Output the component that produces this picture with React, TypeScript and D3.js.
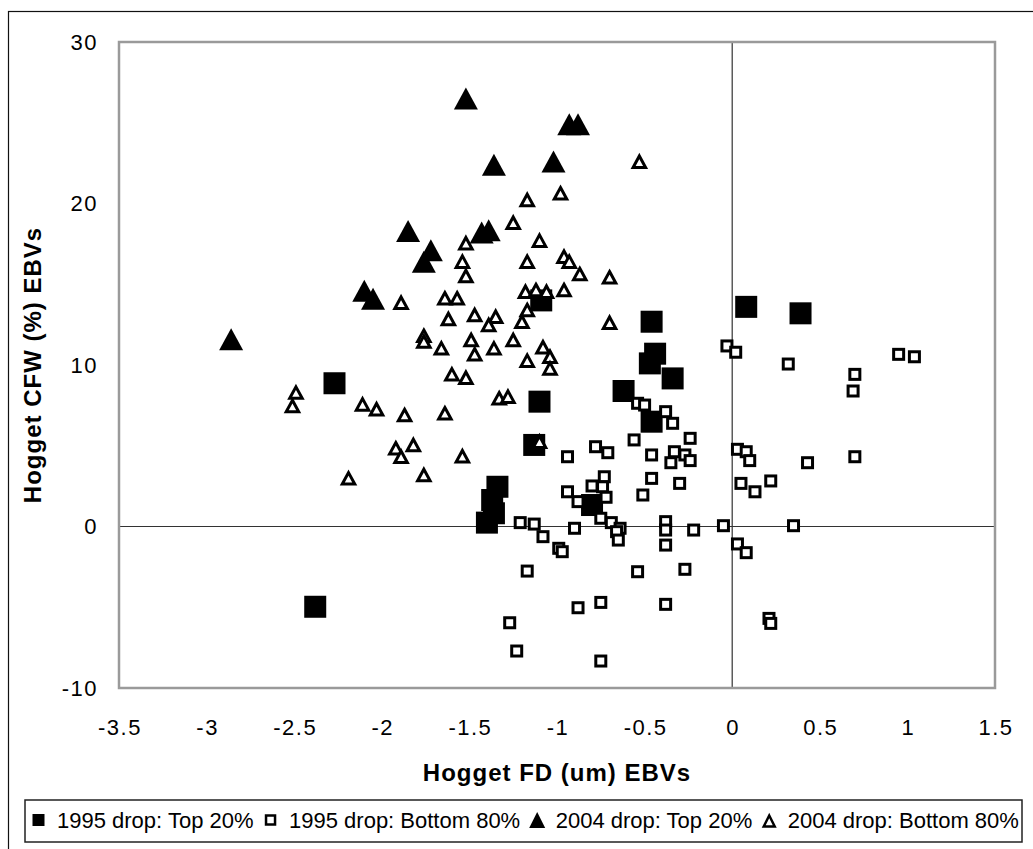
import React, { useEffect, useRef } from 'react'
import * as d3 from 'd3'

type Pt = [number, number]

// 1995 drop: Top 20% (filled squares)
const top1995: Pt[] = [
  [-2.38, -4.97], [-2.27, 8.87], [-1.1, 7.73], [-1.13, 5.05], [-1.34, 2.46],
  [-1.37, 1.64], [-1.36, 0.82], [-1.4, 0.24], [-1.09, 14.0], [-0.46, 12.68],
  [-0.44, 10.7], [-0.47, 10.1], [-0.34, 9.17], [-0.62, 8.39], [-0.46, 6.49],
  [-0.8, 1.33], [0.08, 13.6], [0.39, 13.2],
]

// 1995 drop: Bottom 80% (open squares)
const bottom1995: Pt[] = [
  [-0.03, 11.18], [0.02, 10.79], [0.32, 10.06], [0.95, 10.66], [1.04, 10.51],
  [0.7, 9.42], [0.69, 8.39], [-0.54, 7.63], [-0.5, 7.52], [-0.38, 7.11],
  [-0.34, 6.39], [-0.24, 5.46], [-0.56, 5.36], [-0.78, 4.94], [-0.71, 4.57],
  [-0.94, 4.32], [-0.46, 4.43], [-0.33, 4.63], [-0.27, 4.43], [-0.24, 4.08],
  [-0.35, 3.95], [0.03, 4.78], [0.08, 4.63], [0.1, 4.08], [0.43, 3.95],
  [0.7, 4.32], [-0.73, 3.08], [-0.8, 2.51], [-0.94, 2.15], [-0.74, 2.46],
  [-0.72, 1.81], [-0.88, 1.54], [-0.46, 2.98], [-0.51, 1.95], [-0.3, 2.67],
  [0.05, 2.67], [0.13, 2.15], [0.22, 2.82], [-0.75, 0.51], [-0.69, 0.24],
  [-0.64, -0.11], [-0.66, -0.32], [-0.65, -0.84], [-0.9, -0.11], [-0.38, 0.3],
  [-0.38, -0.22], [-0.22, -0.22], [-0.05, 0.05], [0.35, 0.05], [-1.08, -0.63],
  [-0.99, -1.35], [-0.97, -1.56], [-0.38, -1.15], [0.03, -1.08], [0.08, -1.62],
  [-0.54, -2.8], [-0.27, -2.65], [-0.88, -5.03], [-0.75, -4.7], [-0.38, -4.82],
  [0.21, -5.69], [0.22, -6.0], [-0.75, -8.33], [-1.21, 0.24], [-1.13, 0.15],
  [-1.17, -2.76], [-1.27, -5.96], [-1.23, -7.71],
]

// 2004 drop: Top 20% (filled triangles)
const top2004: Pt[] = [
  [-2.86, 11.6], [-2.1, 14.6], [-2.05, 14.1], [-1.85, 18.3], [-1.72, 17.1],
  [-1.76, 16.4], [-1.52, 26.5], [-1.43, 18.2], [-1.39, 18.35], [-1.36, 22.4],
  [-1.02, 22.6], [-0.93, 24.9], [-0.88, 24.9],
]

// 2004 drop: Bottom 80% (open triangles)
const bottom2004: Pt[] = [
  [-0.53, 22.59], [-0.98, 20.63], [-1.17, 20.22], [-1.25, 18.81], [-1.52, 17.54],
  [-1.1, 17.7], [-1.54, 16.4], [-1.52, 15.51], [-1.17, 16.4], [-0.96, 16.71],
  [-0.93, 16.4], [-0.87, 15.63], [-0.7, 15.43], [-1.89, 13.86], [-1.64, 14.13],
  [-1.57, 14.13], [-1.18, 14.54], [-1.12, 14.64], [-1.06, 14.54], [-0.96, 14.64],
  [-1.17, 13.4], [-1.2, 12.68], [-1.62, 12.85], [-1.47, 13.1], [-1.35, 12.99],
  [-1.39, 12.48], [-0.7, 12.62], [-1.76, 11.81], [-1.76, 11.45], [-1.66, 11.03],
  [-1.49, 11.55], [-1.47, 10.66], [-1.36, 11.03], [-1.25, 11.55], [-1.08, 11.1],
  [-1.04, 10.51], [-1.04, 9.79], [-1.17, 10.27], [-1.6, 9.42], [-1.52, 9.21],
  [-1.33, 7.94], [-1.28, 8.04], [-1.87, 6.9], [-1.64, 7.01], [-1.92, 4.84],
  [-1.82, 5.05], [-1.1, 5.25], [-1.54, 4.35], [-1.89, 4.32], [-2.49, 8.29],
  [-2.51, 7.46], [-2.11, 7.56], [-2.03, 7.26], [-2.19, 2.98], [-1.76, 3.19],
]

const xTicks = [-3.5, -3, -2.5, -2, -1.5, -1, -0.5, 0, 0.5, 1, 1.5]
const yTicks = [-10, 0, 10, 20, 30]
const legendLabels = [
  '1995 drop: Top 20%',
  '1995 drop: Bottom 80%',
  '2004 drop: Top 20%',
  '2004 drop: Bottom 80%',
]

const W = 1033
const H = 849
const FONT = "'Liberation Sans', Arial, Helvetica, sans-serif"

const triPath = (w: number, h: number) =>
  `M0,${-h / 2}L${w / 2},${h / 2}L${-w / 2},${h / 2}Z`

export default function App() {
  const svgRef = useRef<SVGSVGElement>(null)

  useEffect(() => {
    if (!svgRef.current) return
    const svg = d3.select(svgRef.current)
    svg.selectAll('*').remove()

    const plot = { left: 119, top: 42, right: 995, bottom: 688 }
    const x = d3.scaleLinear().domain([-3.5, 1.5]).range([plot.left, plot.right])
    const y = d3.scaleLinear().domain([-10, 30]).range([plot.bottom, plot.top])

    svg.append('rect').attr('width', W).attr('height', H).attr('fill', '#fff')

    // outer chart border (runs off the picture on right/bottom)
    svg
      .append('rect')
      .attr('x', 8.5)
      .attr('y', 11.5)
      .attr('width', 1100)
      .attr('height', 1000)
      .attr('fill', 'none')
      .attr('stroke', '#111')
      .attr('stroke-width', 1.2)

    // zero lines
    svg
      .append('line')
      .attr('x1', x(0))
      .attr('x2', x(0))
      .attr('y1', plot.top)
      .attr('y2', plot.bottom)
      .attr('stroke', '#333')
      .attr('stroke-width', 1.2)
    svg
      .append('line')
      .attr('x1', plot.left)
      .attr('x2', plot.right)
      .attr('y1', y(0))
      .attr('y2', y(0))
      .attr('stroke', '#333')
      .attr('stroke-width', 1.2)

    const g = svg.append('g')

    // 1995 top: filled squares
    const fs = 22
    g.selectAll('rect.t95')
      .data(top1995)
      .enter()
      .append('rect')
      .attr('class', 't95')
      .attr('x', (d) => x(d[0]) - fs / 2)
      .attr('y', (d) => y(d[1]) - fs / 2)
      .attr('width', fs)
      .attr('height', fs)
      .attr('fill', '#000')

    // 1995 bottom: open squares
    const os = 10
    g.selectAll('rect.b95')
      .data(bottom1995)
      .enter()
      .append('rect')
      .attr('class', 'b95')
      .attr('x', (d) => x(d[0]) - os / 2)
      .attr('y', (d) => y(d[1]) - os / 2)
      .attr('width', os)
      .attr('height', os)
      .attr('fill', '#fff')
      .attr('stroke', '#000')
      .attr('stroke-width', 3)

    // 2004 top: filled triangles
    g.selectAll('path.t04')
      .data(top2004)
      .enter()
      .append('path')
      .attr('class', 't04')
      .attr('d', triPath(24, 22))
      .attr('transform', (d) => `translate(${x(d[0])},${y(d[1])})`)
      .attr('fill', '#000')

    // 2004 bottom: open triangles
    g.selectAll('path.b04')
      .data(bottom2004)
      .enter()
      .append('path')
      .attr('class', 'b04')
      .attr('d', triPath(12.5, 11.5))
      .attr('transform', (d) => `translate(${x(d[0])},${y(d[1])})`)
      .attr('fill', '#fff')
      .attr('stroke', '#000')
      .attr('stroke-width', 3)
      .attr('stroke-linejoin', 'miter')

    // plot frame
    svg
      .append('rect')
      .attr('x', plot.left)
      .attr('y', plot.top)
      .attr('width', plot.right - plot.left)
      .attr('height', plot.bottom - plot.top)
      .attr('fill', 'none')
      .attr('stroke', '#9a9a9a')
      .attr('stroke-width', 2.5)

    // tick labels
    svg
      .append('g')
      .selectAll('text')
      .data(xTicks)
      .enter()
      .append('text')
      .attr('x', (d) => x(d) + 1)
      .attr('y', 727)
      .attr('dy', '0.35em')
      .attr('text-anchor', 'middle')
      .style('font-family', FONT)
      .style('font-size', '22px')
      .style('letter-spacing', '1.5px')
      .text((d) => String(d))

    svg
      .append('g')
      .selectAll('text')
      .data(yTicks)
      .enter()
      .append('text')
      .attr('x', 98)
      .attr('y', (d) => y(d))
      .attr('dy', '0.35em')
      .attr('text-anchor', 'end')
      .style('font-family', FONT)
      .style('font-size', '22px')
      .style('letter-spacing', '1.5px')
      .text((d) => String(d))

    // axis titles
    svg
      .append('text')
      .attr('x', (plot.left + plot.right) / 2)
      .attr('y', 773)
      .attr('dy', '0.35em')
      .attr('text-anchor', 'middle')
      .style('font-family', FONT)
      .style('font-weight', 'bold')
      .style('font-size', '24px')
      .style('letter-spacing', '1px')
      .text('Hogget FD (um) EBVs')

    svg
      .append('text')
      .attr('transform', `translate(33,${(plot.top + plot.bottom) / 2}) rotate(-90)`)
      .attr('dy', '0.35em')
      .attr('text-anchor', 'middle')
      .style('font-family', FONT)
      .style('font-weight', 'bold')
      .style('font-size', '24px')
      .style('letter-spacing', '1px')
      .text('Hogget CFW (%) EBVs')

    // legend
    svg
      .append('rect')
      .attr('x', 25)
      .attr('y', 800)
      .attr('width', 997)
      .attr('height', 42)
      .attr('fill', '#fff')
      .attr('stroke', '#222')
      .attr('stroke-width', 1.5)

    const legendY = 820
    let cx = 38.5
    legendLabels.forEach((label, i) => {
      const item = svg.append('g')
      if (i === 0) {
        item
          .append('rect')
          .attr('x', cx - 6)
          .attr('y', legendY - 6)
          .attr('width', 12)
          .attr('height', 12)
          .attr('fill', '#000')
      } else if (i === 1) {
        item
          .append('rect')
          .attr('x', cx - 4.5)
          .attr('y', legendY - 4.5)
          .attr('width', 9)
          .attr('height', 9)
          .attr('fill', '#fff')
          .attr('stroke', '#000')
          .attr('stroke-width', 2.5)
      } else if (i === 2) {
        item
          .append('path')
          .attr('d', triPath(16, 16))
          .attr('transform', `translate(${cx},${legendY})`)
          .attr('fill', '#000')
      } else {
        item
          .append('path')
          .attr('d', triPath(11, 11))
          .attr('transform', `translate(${cx},${legendY + 1})`)
          .attr('fill', '#fff')
          .attr('stroke', '#000')
          .attr('stroke-width', 2.5)
      }
      const t = item
        .append('text')
        .attr('x', cx + 18.5)
        .attr('y', legendY)
        .attr('dy', '0.35em')
        .style('font-family', FONT)
        .style('font-size', '22px')
        .text(label)
      const len = (t.node() as SVGTextElement).getComputedTextLength()
      cx = cx + 18.5 + len + 17
    })
  }, [])

  return (
    <svg
      ref={svgRef}
      width={W}
      height={H}
      style={{ position: 'absolute', left: 0, top: 0, display: 'block' }}
    />
  )
}
